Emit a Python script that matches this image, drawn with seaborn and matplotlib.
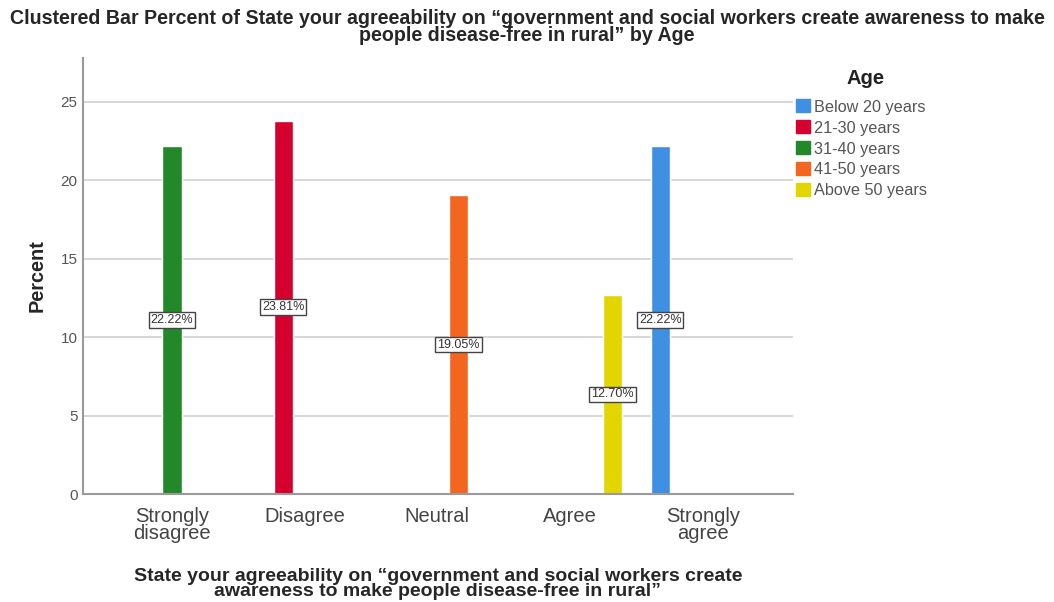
import matplotlib
matplotlib.use("Agg")
import matplotlib.pyplot as plt
import matplotlib.patches as mpatches
import seaborn as sns
import pandas as pd

# Response categories (x axis) and age groups (hue)
categories = ["Strongly\ndisagree", "Disagree", "Neutral", "Agree", "Strongly\nagree"]
age_groups = ["Below 20 years", "21-30 years", "31-40 years", "41-50 years", "Above 50 years"]

# Percent of respondents per response, one list per age group
below_20 = [0.0, 0.0, 0.0, 0.0, 22.22]
age_21_30 = [0.0, 23.81, 0.0, 0.0, 0.0]
age_31_40 = [22.22, 0.0, 0.0, 0.0, 0.0]
age_41_50 = [0.0, 0.0, 19.05, 0.0, 0.0]
above_50 = [0.0, 0.0, 0.0, 12.70, 0.0]

age_colors = ["#3f8fe3", "#d6002f", "#23882a", "#f2661f", "#e3d600"]

series = [below_20, age_21_30, age_31_40, age_41_50, above_50]
rows = []
for age, vals in zip(age_groups, series):
    for cat, v in zip(categories, vals):
        rows.append({"response": cat, "age": age, "percent": v})
df = pd.DataFrame(rows)

sns.set_theme(style="white")
plt.rcParams["font.family"] = ["Liberation Sans", "DejaVu Sans"]

fig = plt.figure(figsize=(10.54, 6.02), dpi=100)
ax = fig.add_axes([83 / 1054, 1 - 494 / 602, (793 - 83) / 1054, (494 - 58) / 602])

sns.barplot(
    data=df, x="response", y="percent", hue="age",
    order=categories, hue_order=age_groups, palette=age_colors,
    saturation=1, width=0.8, gap=0.08, errorbar=None, legend=False, ax=ax,
)

# Value boxes at half height of every non-empty bar
for container, vals in zip(ax.containers, series):
    labels = [f"{v:.2f}%" if v > 0 else "" for v in vals]
    ax.bar_label(
        container, labels=labels, label_type="center", fontsize=9, color="#333333",
        bbox=dict(boxstyle="square,pad=0.15", facecolor="white", edgecolor="#444444", linewidth=1.0),
    )

ax.set_xlim(-0.67, 4.68)
ax.set_ylim(0, 27.8)
ax.set_yticks([0, 5, 10, 15, 20, 25])
ax.yaxis.grid(True, color="#d4d4d4", linewidth=1.3)
ax.set_axisbelow(True)
for side in ("top", "right"):
    ax.spines[side].set_visible(False)
for side in ("left", "bottom"):
    ax.spines[side].set_color("#9a9a9a")
    ax.spines[side].set_linewidth(1.5)

ax.tick_params(axis="y", length=0, pad=4, labelsize=11, labelcolor="#555555")
ax.tick_params(axis="x", length=0, pad=9, labelsize=14.5, labelcolor="#444444")
for lbl in ax.get_xticklabels():
    lbl.set_linespacing(0.92)

ax.set_ylabel("Percent", fontsize=14.3, fontweight="bold", labelpad=10)
ax.set_xlabel(
    "State your agreeability on \u201cgovernment and social workers create\nawareness to make people disease-free in rural\u201d",
    fontsize=14, fontweight="bold", labelpad=18, linespacing=0.84,
)

fig.suptitle(
    "Clustered Bar Percent of State your agreeability on \u201cgovernment and social workers create awareness to make\npeople disease-free in rural\u201d by Age",
    fontsize=14.1, fontweight="bold", y=0.985, linespacing=0.86,
)

# Legend: bold heading, then one coloured square per age group
fig.text(866 / 1054, 1 - 78 / 602, "Age", fontsize=14.5, fontweight="bold",
         color="#222222", ha="center", va="center")
handles = [mpatches.Patch(facecolor=c, edgecolor=c, label=a) for a, c in zip(age_groups, age_colors)]
leg = fig.legend(
    handles=handles, loc="upper left", bbox_to_anchor=(789 / 1054, 1 - 93 / 602),
    frameon=False, fontsize=11.7, handlelength=0.92, handleheight=0.85, handletextpad=0.2,
    labelspacing=0.36, borderaxespad=0,
)
for t in leg.get_texts():
    t.set_color("#555555")

fig.savefig("out.png", dpi=100)
